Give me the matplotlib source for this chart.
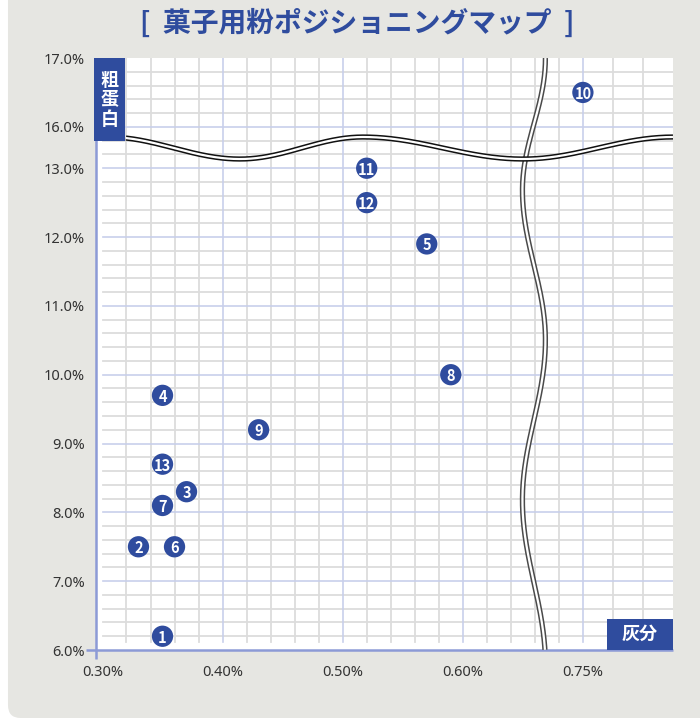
import numpy as np
import matplotlib
matplotlib.use("Agg")
import matplotlib.pyplot as plt
from matplotlib.patches import FancyBboxPatch, Rectangle

plt.rcParams["font.family"] = ["Noto Sans CJK JP", "DejaVu Sans"]

# ==========================================
# Data
# ==========================================
TITLE = "[  菓子用粉ポジショニングマップ  ]"
Y_LABEL = "粗\n蛋\n白"
X_LABEL = "灰分"

flour_ids = [1, 2, 3, 4, 5, 6, 7, 8, 9, 10, 11, 12, 13]
ash_pct = [0.35, 0.33, 0.37, 0.35, 0.57, 0.36, 0.35, 0.59, 0.43, 0.75, 0.52, 0.52, 0.35]
protein_pct = [6.2, 7.5, 8.3, 9.7, 11.9, 7.5, 8.1, 10.0, 9.2, 16.5, 13.0, 12.5, 8.7]

x_ticks = [0.30, 0.40, 0.50, 0.60, 0.75]
x_tick_labels = ["0.30%", "0.40%", "0.50%", "0.60%", "0.75%"]
y_ticks = [6.0, 7.0, 8.0, 9.0, 10.0, 11.0, 12.0, 13.0, 16.0, 17.0]
y_tick_labels = [f"{v:.1f}%" for v in y_ticks]

# ==========================================
# Broken-axis scales (piecewise linear)
# ==========================================
X_V = np.array([-100.0, 0.69, 0.7405, 100.0])
X_D = np.array([-100.0, 0.69, 0.6905, 99.95])
Y_V = np.array([-1000.0, 13.3, 15.7, 1000.0])
Y_D = np.array([-1000.0, 13.3, 13.301, 997.601])


def x_fwd(v):
    return np.interp(v, X_V, X_D)


def x_inv(d):
    return np.interp(d, X_D, X_V)


def y_fwd(v):
    return np.interp(v, Y_V, Y_D)


def y_inv(d):
    return np.interp(d, Y_D, Y_V)


BLUE = "#2f4c9e"
AXIS_BLUE = "#8c9ad6"
GRID_MINOR = "#dcdcdc"
GRID_MAJOR = "#c8cfeb"
PANEL = "#e6e6e2"

fig = plt.figure(figsize=(7, 7.2), dpi=100, facecolor="white")

# grey rounded panel behind everything
panel = FancyBboxPatch(
    (0.0114, 0.0028), 1.2, 1.2,
    boxstyle="round,pad=0,rounding_size=0.018",
    transform=fig.transFigure, facecolor=PANEL, edgecolor="none", zorder=-10,
)
fig.add_artist(panel)

ax = fig.add_axes([0.1371, 0.0972, 0.8243, 0.8222], zorder=1)
ax.set_facecolor("white")
ax.set_xscale("function", functions=(x_fwd, x_inv))
ax.set_yscale("function", functions=(y_fwd, y_inv))
ax.set_xlim(0.2946, 0.825)
ax.set_ylim(6.0, 17.0)

for s in ax.spines.values():
    s.set_visible(False)

# --- grid (uniform on the page, so values differ across the breaks)
x_minor = list(np.round(np.arange(0.32, 0.681, 0.02), 3)) + [0.775, 0.80]
x_major = [0.40, 0.50, 0.60, 0.75]
y_minor = list(np.round(np.arange(6.2, 13.21, 0.2), 2)) + [15.8, 16.2, 16.4, 16.6, 16.8]
y_major = [7.0, 8.0, 9.0, 10.0, 11.0, 12.0, 13.0, 16.0]

for v in x_minor:
    if any(abs(v - m) < 1e-6 for m in x_major):
        continue
    ax.axvline(v, ymin=0.0135, ymax=1, color=GRID_MINOR, lw=1.3, zorder=1)
for v in y_minor:
    if any(abs(v - m) < 1e-6 for m in y_major):
        continue
    ax.axhline(v, xmin=0.012, xmax=1, color=GRID_MINOR, lw=1.3, zorder=1)
for v in x_major:
    ax.axvline(v, ymin=0.0135, ymax=1, color=GRID_MAJOR, lw=1.2, zorder=1.1)
for v in y_major:
    ax.axhline(v, xmin=0.012, xmax=1, color=GRID_MAJOR, lw=1.2, zorder=1.1)

# --- axis lines crossing at the origin
ax.plot([-0.0173, 1.0], [0, 0], transform=ax.transAxes, color=AXIS_BLUE,
        lw=1.8, clip_on=False, zorder=3, solid_capstyle="butt")
ax.plot([0, 0], [-0.0152, 1.0], transform=ax.transAxes, color=AXIS_BLUE,
        lw=1.8, clip_on=False, zorder=3, solid_capstyle="butt")


# --- wavy break marks (half-cosine between alternating extrema)
def wave(knots, centre, amp, first_sign, n=400):
    knots = np.asarray(knots, dtype=float)
    pos = np.linspace(knots[0], knots[-1], n)
    off = np.empty_like(pos)
    for i in range(len(knots) - 1):
        a, b = knots[i], knots[i + 1]
        m = (pos >= min(a, b)) & (pos <= max(a, b))
        t = (pos[m] - a) / (b - a)
        sign = first_sign * (1 if i % 2 == 0 else -1)
        off[m] = sign * amp * np.cos(np.pi * t)
    return pos, centre + off


hx, hy = wave([0.02, 0.2496, 0.4627, 0.740, 1.0], 0.848, 0.0186, 1)
keep = hx >= 0.0503
hx, hy = hx[keep], hy[keep]
vy, vx = wave([1.0, 0.777, 0.5236, 0.2534, -0.0253], 0.759, 0.0199, 1)
keep = (vy >= 0) & (vy <= 1)
vy, vx = vy[keep], vx[keep]

ax.plot(vx, vy, transform=ax.transAxes, color="#4a4a4a", lw=3.8, zorder=4,
        solid_capstyle="butt")
ax.plot(vx, vy, transform=ax.transAxes, color="white", lw=1.6, zorder=4.1,
        solid_capstyle="butt")
ax.plot(hx, hy, transform=ax.transAxes, color="#111111", lw=3.8, zorder=4.2,
        solid_capstyle="butt")
ax.plot(hx, hy, transform=ax.transAxes, color="white", lw=1.6, zorder=4.3,
        solid_capstyle="butt")

# --- numbered markers
ax.scatter(ash_pct, protein_pct, s=235, color=BLUE, edgecolors="none", zorder=5)
for fid, xv, yv in zip(flour_ids, ash_pct, protein_pct):
    size = 10.5
    ax.text(xv, yv, str(fid), ha="center", va="center_baseline",
            color="white", fontsize=size, fontweight="bold",
            family=["Noto Sans CJK JP", "DejaVu Sans"], zorder=6)

# --- ticks
ax.set_xticks(x_ticks, x_tick_labels)
ax.set_yticks(y_ticks, y_tick_labels)
ax.minorticks_off()
ax.tick_params(axis="both", length=0, labelsize=10.5, labelcolor="#333333")
ax.tick_params(axis="y", pad=8)
ax.tick_params(axis="x", pad=11)
for lab in ax.get_xticklabels() + ax.get_yticklabels():
    lab.set_family(["Noto Sans", "DejaVu Sans"])

# --- axis name boxes
ax.add_patch(Rectangle((-0.0035, 0.86), 0.0538, 0.14, transform=ax.transAxes,
                       facecolor=BLUE, edgecolor="none", clip_on=False, zorder=7))
ax.text(0.0234, 0.929, Y_LABEL, transform=ax.transAxes, ha="center", va="center",
        color="white", fontsize=13, fontweight="bold", linespacing=1.05, zorder=8)
ax.add_patch(Rectangle((0.8856, 0.0), 0.1144, 0.0524, transform=ax.transAxes,
                       facecolor=BLUE, edgecolor="none", clip_on=False, zorder=7))
ax.text(0.942, 0.026, X_LABEL, transform=ax.transAxes, ha="center", va="center",
        color="white", fontsize=13, fontweight="bold", zorder=8)

fig.text(0.51, 0.968, TITLE, ha="center", va="center", color=BLUE,
         fontsize=20, fontweight="bold")

fig.savefig("out.png", dpi=100, facecolor="white")
